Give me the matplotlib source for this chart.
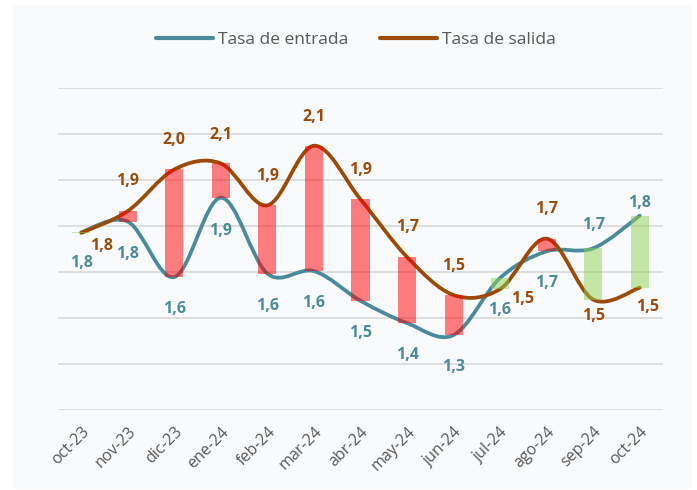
import numpy as np
import matplotlib.pyplot as plt
from matplotlib.path import Path
from matplotlib.patches import PathPatch, Rectangle
from matplotlib.lines import Line2D

meses = ["oct-23", "nov-23", "dic-23", "ene-24", "feb-24", "mar-24", "abr-24",
         "may-24", "jun-24", "jul-24", "ago-24", "sep-24", "oct-24"]
entrada = [1.773, 1.819, 1.578, 1.923, 1.593, 1.604, 1.475,
           1.378, 1.326, 1.574, 1.690, 1.703, 1.845]
salida = [1.770, 1.865, 2.046, 2.072, 1.890, 2.149, 1.916,
          1.665, 1.500, 1.526, 1.745, 1.480, 1.532]

# label offsets in pixels (dx, dy down)
off_ent = [(0, 31), (0, 32), (0, 32), (0, 33), (0, 32), (0, 32), (0, 32),
           (0, 32), (0, 32), (-1, 32), (0, 32), (0, -23), (0, -13)]
off_sal = [(20, 13), (0, -30), (0, -29), (0, -28), (0, -29), (0, -29), (0, -29),
           (0, -30), (0, -29), (22, 10), (0, -30), (0, 16), (8, 19)]

c_ent = "#4a8b9b"
c_sal = "#9c4a08"
font = "Open Sans"

def smooth_path(xs, ys):
    pts = np.column_stack([xs, ys])
    verts = [pts[0]]
    codes = [Path.MOVETO]
    n = len(pts)
    for i in range(n - 1):
        p0 = pts[max(i - 1, 0)]
        p1 = pts[i]
        p2 = pts[i + 1]
        p3 = pts[min(i + 2, n - 1)]
        verts += [p1 + (p2 - p0) / 6, p2 - (p3 - p1) / 6, p2]
        codes += [Path.CURVE4] * 3
    return Path(verts, codes)

fig = plt.figure(figsize=(6.97, 4.9), dpi=100)
fig.patches.append(Rectangle((13/697, 1/490), 679/697, 484/490, transform=fig.transFigure,
                             facecolor="#f9fafc", edgecolor="none", zorder=-10))
ax = fig.add_axes([58/697, 80/490, 605/697, 322/490])
ax.set_facecolor("none")

x = np.arange(len(meses))
ax.set_xlim(-0.5, len(meses) - 0.5)
ax.set_ylim(1.0, 2.4)
ax.set_yticks(np.arange(1.0, 2.41, 0.2))
ax.yaxis.grid(True, color="#d9d9d9", linewidth=1.2)
ax.set_axisbelow(True)
ax.tick_params(axis="y", left=False, labelleft=False)
ax.tick_params(axis="x", length=0, pad=10)
for s in ax.spines.values():
    s.set_visible(False)

ax.add_patch(PathPatch(smooth_path(x, entrada), facecolor="none", edgecolor=c_ent,
                       linewidth=2.7, capstyle="round", zorder=2))
ax.add_patch(PathPatch(smooth_path(x, salida), facecolor="none", edgecolor=c_sal,
                       linewidth=2.7, capstyle="round", zorder=2))

ent = np.array(entrada)
sal = np.array(salida)
colores = ["#ff0000" if s > e else "#8fd14f" for e, s in zip(ent, sal)]
ax.bar(x, np.abs(sal - ent), bottom=np.minimum(ent, sal), width=0.39,
       color=colores, alpha=0.5, zorder=3)

k = 72 / 100
for i in range(len(meses)):
    ax.annotate(f"{entrada[i]:.1f}".replace(".", ","), (x[i], entrada[i]),
                xytext=(off_ent[i][0] * k, -off_ent[i][1] * k), textcoords="offset points",
                ha="center", va="center", color=c_ent, fontsize=11.5,
                fontweight="bold", family=font, zorder=4)
    ax.annotate(f"{salida[i]:.1f}".replace(".", ","), (x[i], salida[i]),
                xytext=(off_sal[i][0] * k, -off_sal[i][1] * k), textcoords="offset points",
                ha="center", va="center", color=c_sal, fontsize=11.5,
                fontweight="bold", family=font, zorder=4)

ax.set_xticks(x)
ax.set_xticklabels(meses, rotation=45, ha="right", rotation_mode="anchor",
                   color="#595959", fontsize=11.5, family=font)

handles = [Line2D([], [], color=c_ent, linewidth=3, solid_capstyle="round"),
           Line2D([], [], color=c_sal, linewidth=3, solid_capstyle="round")]
fig.legend(handles, ["Tasa de entrada", "Tasa de salida"], loc="center",
           bbox_to_anchor=(356/697, 1 - 40/490), ncol=2, frameon=False,
           handlelength=3.3, handletextpad=0.3, columnspacing=1.8,
           prop={"family": font, "size": 12.5}, labelcolor="#595959")

fig.savefig("out.png", dpi=100)
